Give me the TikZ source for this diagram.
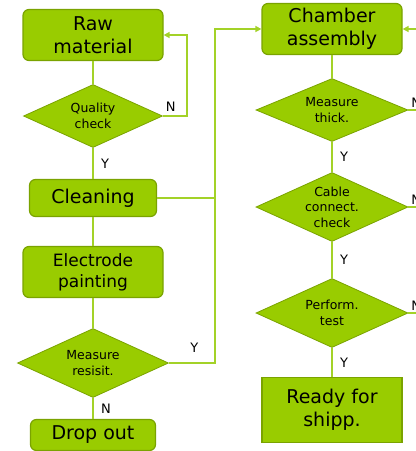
\documentclass[tikz,border=0pt]{standalone}
\usepackage{fontspec}
\setmainfont{DejaVu Sans}
\usetikzlibrary{arrows.meta,shapes.geometric}
\definecolor{leaf}{RGB}{153,204,0}
\definecolor{leafdark}{RGB}{122,163,0}
\definecolor{leaflight}{RGB}{163,210,40}
\tikzset{
  box/.style={draw=leafdark, fill=leaf, line width=1.2pt, rounded corners=6pt,
    align=center, inner sep=0pt, font=\fontsize{19}{23}\selectfont},
  check/.style={diamond, draw=leafdark, fill=leaf, line width=0.8pt, aspect=2,
    inner sep=-2pt, align=center, font=\fontsize{12.5}{15.5}\selectfont},
  link/.style={draw=leaflight, line width=2pt},
  yn/.style={font=\fontsize{13}{15}\selectfont, inner sep=2pt},
}

\begin{document}
\begin{tikzpicture}[x=1pt, y=-1pt, >={Triangle[length=6pt,width=6pt]}]
    \useasboundingbox (0,0) rectangle (416,451);
    \clip (0,0) rectangle (416,451);

    % left column
    \node[box, minimum width=140pt, minimum height=51pt] (raw) at (93,35) {Raw\\material};
    \node[check, minimum width=139pt, minimum height=63pt] (qual) at (93,116) {Quality\\check};
    \node[box, minimum width=127pt, minimum height=37pt] (clean) at (93,198) {Cleaning};
    \node[box, minimum width=140pt, minimum height=51pt, font=\fontsize{17}{21}\selectfont] (paint) at (93,272) {Electrode\\painting};
    \node[check, minimum width=151pt, minimum height=69pt] (resist) at (93,363) {Measure\\resisit.};
    \node[box, minimum width=125pt, minimum height=31pt] (drop) at (93,435) {Drop out};

    % right column
    \node[box, minimum width=140pt, minimum height=51pt] (chamber) at (332,29) {Chamber\\assembly};
    \node[check, minimum width=152pt, minimum height=63pt] (thick) at (332,110) {Measure\\thick.};
    \node[check, minimum width=152pt, minimum height=69pt] (cable) at (332,207) {Cable\\connect.\\check};
    \node[check, minimum width=152pt, minimum height=69pt] (perf) at (332,313) {Perform.\\test};
    \node[box, sharp corners, minimum width=140pt, minimum height=65pt] (ready) at (332,410) {Ready for\\shipp.};

    % left links
    \draw[link] (raw) -- (qual);
    \draw[link, ->] (qual.east) node[yn, anchor=south west, yshift=2pt] {N} -- ++(24,0) |- (raw.east);
    \draw[link] (qual) -- node[yn, right=5pt] {Y} (clean);
    \draw[link] (clean) -- (paint);
    \draw[link] (paint) -- (resist);
    \draw[link] (resist) -- node[yn, right=5pt] {N} (drop);

    % passed parts go to the chamber
    \coordinate (bus) at (215,363);
    \draw[link, ->] (resist.east) -- node[yn, above=8pt, pos=0.55] {Y} (bus) |- (chamber.west);
    \draw[link] (clean.east) -- (clean.east -| bus);

    % right links
    \draw[link] (chamber) -- (thick);
    \draw[link] (thick) -- node[yn, right=5pt] {Y} (cable);
    \draw[link] (cable) -- node[yn, right=5pt] {Y} (perf);
    \draw[link] (perf) -- node[yn, right=5pt] {Y} (ready);

    % failed tests go back
    \coordinate (back) at (432,313);
    \draw[link] (thick.east) node[yn, anchor=south west] {N} -- (thick.east -| back);
    \draw[link] (cable.east) node[yn, anchor=south west] {N} -- (cable.east -| back);
    \draw[link, ->] (perf.east) node[yn, anchor=south west] {N} -- (back) |- (chamber.east);
\end{tikzpicture}
\end{document}
